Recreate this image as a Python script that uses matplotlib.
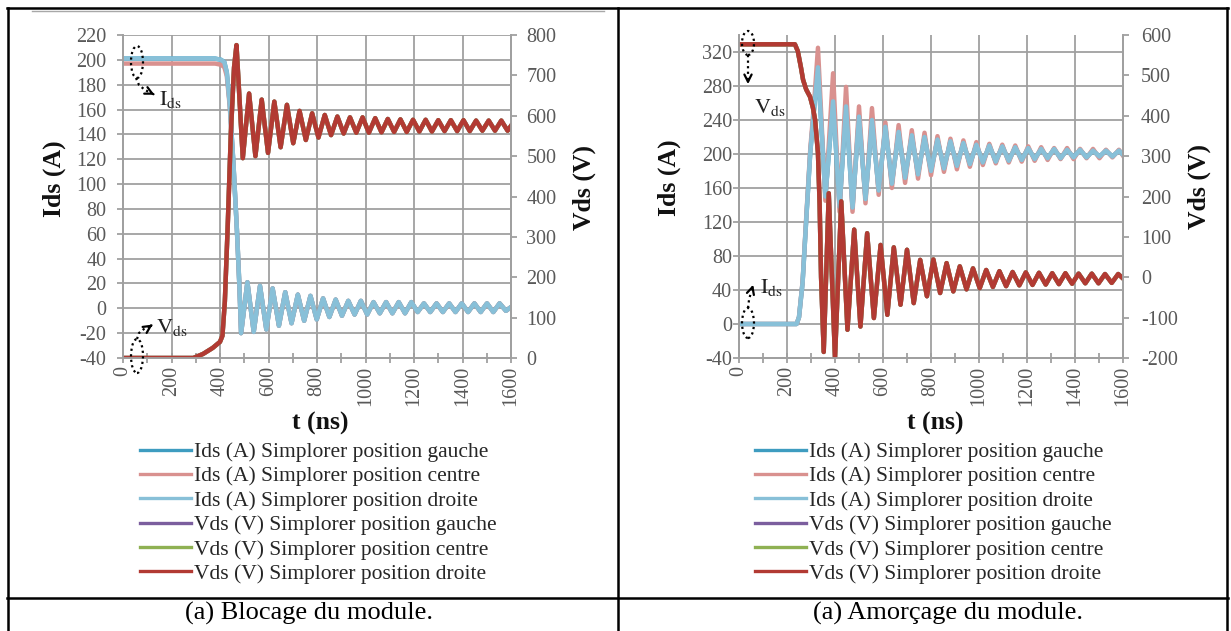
import matplotlib
matplotlib.use('Agg')
import matplotlib.pyplot as plt
from matplotlib.lines import Line2D
from matplotlib.patches import Ellipse, FancyArrowPatch

W, H = 1231, 631
plt.rcParams['font.family'] = ['Liberation Serif', 'DejaVu Serif']
plt.rcParams['mathtext.fontset'] = 'stix'
plt.rcParams['axes.unicode_minus'] = False

# ---------------- (a) Blocage : turn-off ----------------
blo_ids_head_t = [0, 380, 405, 418, 428, 440, 455, 470, 480]
blo_ids_droite_head = [201, 201, 200, 198, 190, 165, 118, 62, 18]
blo_ids_centre_head = [197, 197, 196, 194, 187, 163, 117, 62, 18]
blo_ids_osc_t = [487, 513, 539, 565, 591, 617, 643, 669, 695, 721,
                 747, 773, 799, 825, 851, 877, 903, 929, 955, 981,
                 1007, 1033, 1059, 1085, 1111, 1137, 1163, 1189, 1215, 1241,
                 1267, 1293, 1319, 1345, 1371, 1397, 1423, 1449, 1475, 1501,
                 1527, 1553, 1579, 1600]
blo_ids_osc = [-20, 21, -19, 18, -17, 16, -14, 13, -12, 11,
               -10, 10, -9, 8, -7, 7, -6, 6, -5, 6,
               -5, 5, -4, 5, -4, 5, -4, 5, -3, 4,
               -3, 4, -3, 4, -3, 4, -3, 4, -3, 4,
               -3, 4, -2, 1]

blo_vds_t = [0, 290, 330, 370, 400, 410, 420, 432, 445, 458,
             468, 494, 520, 546, 572, 598, 624, 650, 676, 702,
             728, 754, 780, 806, 832, 858, 884, 910, 936, 962,
             988, 1014, 1040, 1066, 1092, 1118, 1144, 1170, 1196, 1222,
             1248, 1274, 1300, 1326, 1352, 1378, 1404, 1430, 1456, 1482,
             1508, 1534, 1560, 1586, 1600]
blo_vds = [0, 0, 10, 25, 40, 55, 140, 330, 560, 720,
           775, 495, 655, 500, 640, 508, 635, 522, 627, 532,
           612, 540, 606, 546, 602, 552, 598, 556, 596, 558,
           596, 558, 594, 559, 592, 560, 591, 560, 590, 561,
           590, 561, 589, 562, 589, 562, 589, 562, 588, 563,
           588, 563, 588, 563, 575]

# ---------------- (a) Amorcage : turn-on ----------------
amo_ids_t = [0, 240, 250, 265, 281, 297, 313,
             329, 360, 392, 419, 446, 473, 500, 527, 554, 582,
             610, 637, 665, 692, 720, 746, 773, 800, 827, 854,
             881, 908, 935, 962, 989, 1016, 1043, 1070, 1097, 1124,
             1151, 1178, 1205, 1232, 1259, 1286, 1313, 1340, 1367, 1394,
             1421, 1448, 1475, 1502, 1529, 1556, 1583, 1600]
amo_ids_droite = [0, 0, 8, 49, 127, 202, 253,
                  302, 150, 262, 138, 256, 137, 244, 147, 240, 157,
                  232, 165, 226, 172, 222, 176, 220, 180, 217, 183,
                  215, 186, 213, 188, 211, 190, 210, 191, 209, 192,
                  208, 193, 207, 194, 206, 195, 206, 195, 205, 196,
                  205, 196, 204, 197, 204, 197, 204, 199]
amo_ids_centre = [0, 0, 8, 50, 130, 206, 260,
                  325, 145, 295, 132, 279, 132, 256, 142, 254, 152,
                  237, 160, 234, 166, 228, 171, 225, 175, 221, 179,
                  218, 182, 216, 185, 214, 187, 212, 189, 211, 190,
                  210, 191, 209, 192, 208, 193, 207, 194, 207, 194,
                  206, 195, 206, 195, 205, 196, 205, 198]

amo_vds_t = [0, 233, 245, 258, 267, 280, 296, 308, 317, 329, 336, 342, 353,
             374, 400, 426, 452, 480, 506, 534, 562, 590, 618,
             645, 673, 700, 728, 755, 783, 810, 838, 865, 893,
             920, 948, 975, 1003, 1030, 1058, 1085, 1113, 1140, 1168,
             1195, 1223, 1250, 1278, 1305, 1333, 1360, 1388, 1415, 1443,
             1470, 1498, 1525, 1553, 1580, 1600]
amo_vds = [577, 577, 560, 520, 489, 465, 447, 420, 390, 308, 180, 0, -185,
           208, -200, 188, -130, 118, -122, 109, -101, 80, -93,
           74, -68, 68, -64, 43, -47, 44, -39, 35, -35,
           27, -30, 22, -27, 18, -24, 15, -22, 13, -20,
           12, -19, 11, -18, 10, -17, 10, -16, 9, -15,
           9, -15, 8, -14, 8, -3]

series_labels = ['Ids (A) Simplorer position gauche',
                 'Ids (A) Simplorer position centre',
                 'Ids (A) Simplorer position droite',
                 'Vds (V) Simplorer position gauche',
                 'Vds (V) Simplorer position centre',
                 'Vds (V) Simplorer position droite']
series_colors = ['#3E9CC0', '#D9918F', '#88C0D8', '#7B5E9E', '#8FB153', '#B23A33']
captions = ['(a) Blocage du module.', '(a) Amorçage du module.']

GRID = '#A0A0A0'
TICKTXT = '#595959'

fig = plt.figure(figsize=(W / 100, H / 100), dpi=100)


def px(x, y):
    return (x / W, 1 - y / H)


def rect(x0, y0, x1, y1):
    return [x0 / W, 1 - y1 / H, (x1 - x0) / W, (y1 - y0) / H]


def panel(r, ids, vds, ylim1, step1, ylim2, step2, lpad, rpad):
    ax = fig.add_axes(r)
    ax2 = ax.twinx()
    for (t, v), c in zip(ids, series_colors[:3]):
        ax.plot(t, v, color=c, lw=3.2, solid_joinstyle='round')
    for (t, v), c in zip(vds, series_colors[3:]):
        ax2.plot(t, v, color=c, lw=3.2, solid_joinstyle='round')
    ax.set_xlim(0, 1600)
    ax.set_xticks(range(0, 1601, 200))
    ax.set_xticks(range(100, 1600, 200), minor=True)
    ax.set_ylim(*ylim1)
    top = ylim1[1] + 1 if (ylim1[1] - ylim1[0]) % step1 == 0 else ylim1[1]
    ax.set_yticks(range(ylim1[0], top, step1))
    ax2.set_ylim(*ylim2)
    ax2.set_yticks(range(ylim2[0], ylim2[1] + 1, step2))
    ax.grid(True, which='major', color=GRID, lw=1.3)
    for a in (ax, ax2):
        for s in a.spines.values():
            s.set_color(GRID)
            s.set_linewidth(1.3)
        a.spines['top'].set_visible(False)
    ax.tick_params(axis='x', which='both', direction='inout', length=7, width=1.3,
                   color=GRID, labelcolor=TICKTXT, labelsize=14.5, labelrotation=90, pad=2)
    ax.tick_params(axis='y', direction='out', length=4, width=1.3, color=GRID,
                   labelcolor=TICKTXT, labelsize=14.5, pad=lpad)
    ax2.tick_params(axis='y', direction='out', length=4, width=1.3, color=GRID,
                    labelcolor=TICKTXT, labelsize=14.5, pad=rpad)
    return ax, ax2


blo_ids_droite = blo_ids_droite_head + blo_ids_osc
blo_ids_centre = blo_ids_centre_head + blo_ids_osc
blo_ids_tt = blo_ids_head_t + blo_ids_osc_t

panel(rect(123, 35, 511, 358),
      [(blo_ids_tt, blo_ids_droite), (blo_ids_tt, blo_ids_centre), (blo_ids_tt, blo_ids_droite)],
      [(blo_vds_t, blo_vds)] * 3,
      (-40, 220), 20, (0, 800), 100, 8, 7)

panel(rect(739, 35, 1123, 358),
      [(amo_ids_t, amo_ids_droite), (amo_ids_t, amo_ids_centre), (amo_ids_t, amo_ids_droite)],
      [(amo_vds_t, amo_vds)] * 3,
      (-40, 340), 40, (-200, 600), 100, 1, 9)

# axis titles
for x, y, s, rot in [(54, 179, 'Ids (A)', 90), (584, 187, 'Vds (V)', 90),
                     (669, 178, 'Ids (A)', 90), (1199, 186, 'Vds (V)', 90),
                     (320, 423, 't (ns)', 0), (935, 423, 't (ns)', 0)]:
    fig.text(*px(x, y), s, rotation=rot, ha='center', va='center',
             fontsize=18.5, fontweight='bold', color='#111111')

# legends
handles = [Line2D([], [], color=c, lw=2.4) for c in series_colors]
for cx in (318, 933):
    fig.legend(handles, series_labels, loc='center', bbox_to_anchor=px(cx, 513),
               frameon=False, fontsize=15.5, labelspacing=0.2, handlelength=2.4,
               handletextpad=0.1, borderpad=0, labelcolor='#262626')

# captions
fig.text(*px(309, 613), captions[0], ha='center', va='center', fontsize=19)
fig.text(*px(948, 613), captions[1], ha='center', va='center', fontsize=19)

# table borders
for xs, ys in [((7, 1228), (8, 8)), ((8, 8), (8, 631)), ((618, 618), (8, 631)),
               ((1227, 1227), (8, 631)), ((7, 1228), (598, 598))]:
    fig.add_artist(Line2D([xs[0] / W, xs[1] / W], [1 - ys[0] / H, 1 - ys[1] / H],
                          color='black', lw=1.8, transform=fig.transFigure))
fig.add_artist(Line2D([32 / W, 604 / W], [1 - 11 / H, 1 - 11 / H], color='#A8A8A8',
                      lw=1, transform=fig.transFigure))


# dotted ellipse / arrow annotations
def mark(ell, path, head, txt_xy, main):
    e = Ellipse(px(*ell[:2]), ell[2] / W, ell[3] / H, transform=fig.transFigure,
                fill=False, ls=(0, (1, 1.5)), lw=1.6, ec='black')
    fig.add_artist(e)
    xs = [p[0] / W for p in path]
    ys = [1 - p[1] / H for p in path]
    fig.add_artist(Line2D(xs, ys, ls=(0, (1, 1.5)), lw=1.6, color='black',
                          transform=fig.transFigure))
    fig.add_artist(FancyArrowPatch(px(*path[-1]), px(*head), transform=fig.transFigure,
                                   arrowstyle='->', mutation_scale=13, lw=1.6, color='black'))
    fig.text(*px(*txt_xy), r'$\mathrm{' + main + r'}_{\mathrm{ds}}$', ha='left',
             va='center', fontsize=16, color='#222222')


mark((137, 62, 12, 32), [(136, 78), (139, 85), (145, 90), (151, 93)], (157, 96), (159, 99), 'I')
mark((137, 356, 12, 34), [(137, 339), (139, 333), (144, 329), (149, 327)], (155, 323), (156, 327), 'V')
mark((748, 43, 12, 24), [(748, 55), (748, 66), (748, 76)], (748, 87), (754, 108), 'V')
mark((748, 323, 12, 30), [(748, 308), (749, 300), (751, 292)], (754, 282), (760, 288), 'I')

fig.savefig('out.png', dpi=100)
